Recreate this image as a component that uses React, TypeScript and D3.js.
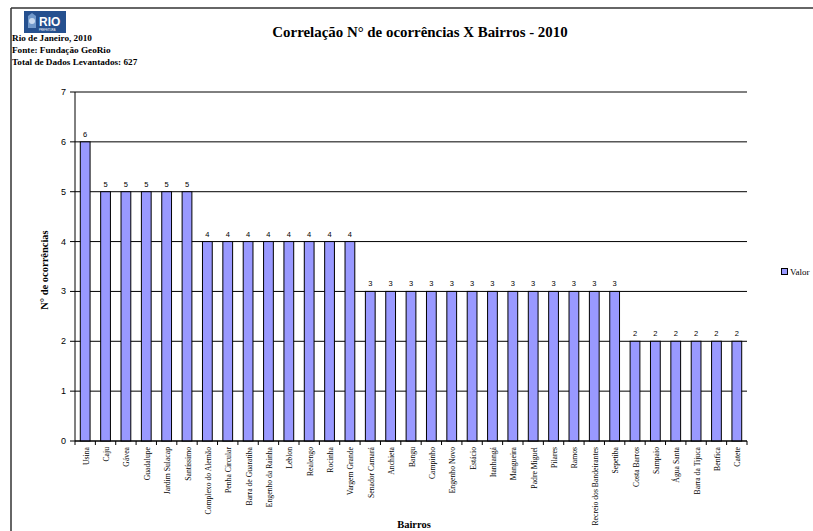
import React from "react";
import * as d3 from "d3";

const categories = [
  "Usina", "Caju", "Gávea", "Guadalupe", "Jardim Sulacap", "Santíssimo",
  "Complexo do Alemão", "Penha Circular", "Barra de Guaratiba", "Engenho da Rainha",
  "Leblon", "Realengo", "Rocinha", "Vargem Grande", "Senador Camará", "Anchieta",
  "Bangu", "Campinho", "Engenho Novo", "Estácio", "Itanhangá", "Mangueira",
  "Padre Miguel", "Pilares", "Ramos", "Recreio dos Bandeirantes", "Sepetiba",
  "Costa Barros", "Sampaio", "Água Santa", "Barra da Tijuca", "Benfica", "Catete",
];
const values = [
  6, 5, 5, 5, 5, 5,
  4, 4, 4, 4, 4, 4, 4, 4,
  3, 3, 3, 3, 3, 3, 3, 3, 3, 3, 3, 3, 3,
  2, 2, 2, 2, 2, 2,
];
const yTicks = [0, 1, 2, 3, 4, 5, 6, 7];
const title = "Correlação N° de ocorrências X Bairros - 2010";
const headerLines = ["Rio de Janeiro, 2010", "Fonte: Fundação GeoRio", "Total de Dados Levantados: 627"];
const seriesName = "Valor";

const W = 813;
const H = 531;
const plot = { left: 75, right: 747, top: 92, bottom: 441 };
const serif = "'Liberation Serif', 'Times New Roman', serif";
const sans = "'Liberation Sans', Arial, sans-serif";
const barFill = "#9999FF";

export default function App() {
  const x = d3.scaleBand<string>().domain(categories).range([plot.left, plot.right]).paddingInner(0.52).paddingOuter(0.26);
  const xb = d3.scaleBand<string>().domain(categories).range([plot.left, plot.right]);
  const y = d3.scaleLinear().domain([0, 7]).range([plot.bottom, plot.top]);

  return (
    <svg width={W} height={H} style={{ position: "absolute", left: 0, top: 0, display: "block", background: "#fff" }}>
      {/* page frame */}
      <line x1={11} y1={8} x2={W} y2={8} stroke="#333" strokeWidth={1.5} />
      <line x1={11} y1={8} x2={11} y2={H} stroke="#333" strokeWidth={1.5} />

      {/* logo */}
      <rect x={24} y={11} width={42} height={22} fill="#25508f" />
      <path d="M28,16 L32,13 L36,16 L36,28 L28,28 Z" fill="#7fa6d6" opacity={0.85} />
      <circle cx={32} cy={21} r={3} fill="#c9daf0" />
      <text x={39} y={26} fill="#fff" fontFamily={sans} fontWeight="bold" fontSize={12}>RIO</text>
      <text x={39} y={31} fill="#fff" fontFamily={sans} fontSize={2.6}>PREFEITURA</text>

      {/* header text */}
      {headerLines.map((t, i) => (
        <text key={t} x={12} y={41 + i * 12} fontFamily={serif} fontWeight="bold" fontSize={9.2} fill="#000">{t}</text>
      ))}

      {/* title */}
      <text x={420} y={37} textAnchor="middle" fontFamily={serif} fontWeight="bold" fontSize={14.9} fill="#000">{title}</text>

      {/* gridlines */}
      {yTicks.map((t) => (
        <line key={"g" + t} x1={plot.left} x2={plot.right} y1={y(t)} y2={y(t)} stroke="#000" strokeWidth={1} />
      ))}

      {/* y axis */}
      <line x1={plot.left} x2={plot.left} y1={plot.top} y2={plot.bottom} stroke="#000" />
      {yTicks.map((t) => (
        <g key={"yt" + t}>
          <line x1={plot.left - 5} x2={plot.left} y1={y(t)} y2={y(t)} stroke="#000" />
          <text x={plot.left - 9} y={y(t) + 3} textAnchor="end" fontFamily={sans} fontSize={9} fill="#000">{t}</text>
        </g>
      ))}

      {/* bars */}
      {categories.map((c, i) => (
        <g key={c}>
          <rect x={x(c)} y={y(values[i])} width={x.bandwidth()} height={y(0) - y(values[i])} fill={barFill} stroke="#000" strokeWidth={1} />
          <text x={(x(c) as number) + x.bandwidth() / 2} y={y(values[i]) - 5} textAnchor="middle" fontFamily={sans} fontSize={7.5} fill="#000">{values[i]}</text>
        </g>
      ))}

      {/* x axis */}
      <line x1={plot.left} x2={plot.right} y1={plot.bottom} y2={plot.bottom} stroke="#000" />
      {categories.map((c) => (
        <line key={"xt" + c} x1={xb(c) as number} x2={xb(c) as number} y1={plot.bottom} y2={plot.bottom + 4} stroke="#000" />
      ))}
      <line x1={plot.right} x2={plot.right} y1={plot.bottom} y2={plot.bottom + 4} stroke="#000" />
      {categories.map((c) => {
        const cx = (xb(c) as number) + xb.bandwidth() / 2 + 3.5;
        return (
          <text key={"xl" + c} transform={`translate(${cx},${plot.bottom + 6}) rotate(-90)`} textAnchor="end" fontFamily={serif} fontSize={7.7} fill="#000">{c}</text>
        );
      })}

      {/* axis titles */}
      <text transform={`translate(48,${270}) rotate(-90)`} textAnchor="middle" fontFamily={serif} fontWeight="bold" fontSize={10.5} fill="#000">N° de ocorrências</text>
      <text x={414} y={528} textAnchor="middle" fontFamily={serif} fontWeight="bold" fontSize={10.5} fill="#000">Bairros</text>

      {/* legend */}
      <rect x={781.5} y={268.5} width={6} height={6} fill={barFill} stroke="#000" strokeWidth={1} />
      <text x={790} y={275} fontFamily={serif} fontSize={9} fill="#000">{seriesName}</text>
    </svg>
  );
}
